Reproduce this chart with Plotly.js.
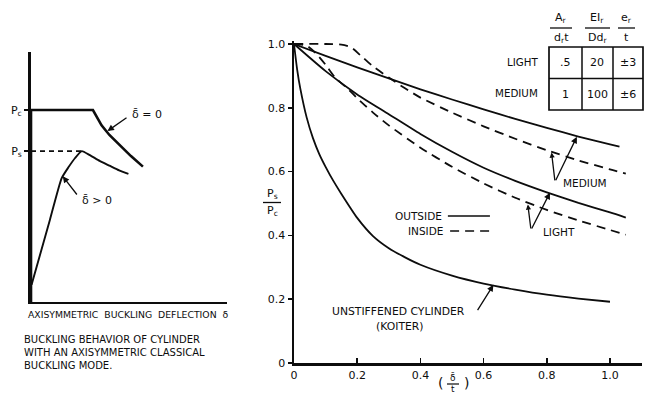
<!DOCTYPE html>
<html>
<head>
<meta charset="utf-8">
<script src="https://cdn.plot.ly/plotly-3.0.1.min.js"></script>
<style>html,body{margin:0;padding:0;background:#fff;}#chart{width:645px;height:393px;}</style>
</head>
<body>
<div id="chart"></div>
<script>
// ---------- Main chart data: P_s/P_c vs (delta-bar / t) ----------
const koiterX = [0, 0.01, 0.02, 0.04, 0.06, 0.08, 0.1, 0.125, 0.15, 0.2, 0.25, 0.3, 0.35, 0.4, 0.5, 0.6, 0.7, 0.8, 0.9, 1.0];
const koiterY = [1.0, 0.92, 0.86, 0.77, 0.705, 0.655, 0.615, 0.57, 0.53, 0.455, 0.398, 0.36, 0.332, 0.308, 0.274, 0.249, 0.23, 0.214, 0.202, 0.192];

const mediumOutX = [0, 0.1, 0.2, 0.3, 0.4, 0.5, 0.6, 0.7, 0.8, 0.9, 1.0, 1.03];
const mediumOutY = [1.0, 0.963, 0.927, 0.892, 0.858, 0.826, 0.795, 0.765, 0.737, 0.71, 0.685, 0.678];

const mediumInX = [0, 0.1, 0.15, 0.18, 0.21, 0.25, 0.3, 0.35, 0.4, 0.5, 0.6, 0.7, 0.8, 0.9, 1.0, 1.05];
const mediumInY = [1.0, 1.0, 0.998, 0.99, 0.965, 0.93, 0.895, 0.862, 0.832, 0.785, 0.742, 0.703, 0.667, 0.635, 0.607, 0.594];

const lightOutX = [0, 0.1, 0.2, 0.3, 0.4, 0.5, 0.6, 0.7, 0.8, 0.9, 1.0, 1.05];
const lightOutY = [1.0, 0.915, 0.842, 0.78, 0.718, 0.662, 0.612, 0.571, 0.535, 0.502, 0.472, 0.456];

const lightInX = [0, 0.04, 0.07, 0.1, 0.13, 0.17, 0.2, 0.25, 0.3, 0.4, 0.5, 0.6, 0.7, 0.8, 0.9, 1.0, 1.05];
const lightInY = [1.0, 0.995, 0.97, 0.935, 0.895, 0.86, 0.83, 0.785, 0.745, 0.675, 0.615, 0.563, 0.518, 0.48, 0.447, 0.417, 0.402];

const xTickVals = [0, 0.2, 0.4, 0.6, 0.8, 1.0];
const xTickText = ["0", "0.2", "0.4", "0.6", "0.8", "1.0"];
const yTickVals = [0, 0.2, 0.4, 0.6, 0.8, 1.0];
const yTickText = ["0", "0.2", "0.4", "0.6", "0.8", "1.0"];

// ---------- Left sketch data: load vs axisymmetric deflection ----------
const perfectX = [0, 0, 0.316, 0.36, 0.40, 0.454, 0.51, 0.571];
const perfectY = [0, 1.0, 1.0, 0.92, 0.87, 0.815, 0.76, 0.705];
const imperfX = [0.003, 0.097, 0.156, 0.19, 0.225, 0.259, 0.30, 0.35, 0.40, 0.45, 0.497];
const imperfY = [0.09, 0.43, 0.644, 0.70, 0.75, 0.786, 0.765, 0.735, 0.71, 0.685, 0.667];
const psLevelX = [0, 0.259];
const psLevelY = [0.786, 0.786];
const leftTickVals = [1.0, 0.786];
const leftTickText = ["P<sub>c</sub>", "P<sub>s</sub>"];

// ---------- Table ----------
const tableRows = ["LIGHT", "MEDIUM"];
const tableCells = [[".5", "20", "±3"], ["1", "100", "±6"]];
const tableHeadNum = ["A<sub>r</sub>", "EI<sub>r</sub>", "e<sub>r</sub>"];
const tableHeadDen = ["d<sub>r</sub>t", "Dd<sub>r</sub>", "t"];

const W = 645, H = 393;
const INK = '#0d0d0d';
const FONT = 'DejaVu Sans, Liberation Sans, Arial, sans-serif';
const PX = x => x / W;
const PY = y => 1 - y / H;
const f = s => ({family: FONT, size: s, color: INK});

function line(x, y, dash, xa, ya, shape) {
  return {x: x, y: y, xaxis: xa || 'x', yaxis: ya || 'y', mode: 'lines', type: 'scatter',
    line: {color: INK, width: 1.8, dash: dash || 'solid', shape: shape || 'spline', smoothing: 0.6},
    hoverinfo: 'skip', showlegend: false};
}

const traces = [
  line(koiterX, koiterY),
  line(mediumOutX, mediumOutY),
  line(mediumInX, mediumInY, '9px,6px'),
  line(lightOutX, lightOutY),
  line(lightInX, lightInY, '9px,6px'),
  Object.assign(line(perfectX, perfectY, 'solid', 'x2', 'y2', 'linear'), {line: {color: INK, width: 2.6, shape: 'linear'}}),
  Object.assign(line(imperfX, imperfY, 'solid', 'x2', 'y2', 'spline'), {line: {color: INK, width: 1.9, shape: 'spline', smoothing: 0.5}}),
  line(psLevelX, psLevelY, '5px,4px', 'x2', 'y2', 'linear')
];

const ann = [];
function txt(text, x, y, opts) {
  ann.push(Object.assign({text: text, x: x, y: y, xref: 'paper', yref: 'paper', showarrow: false,
    xanchor: 'center', yanchor: 'middle', font: f(10.5)}, opts || {}));
}
function dtxt(text, x, y, xa, ya, opts) {
  ann.push(Object.assign({text: text, x: x, y: y, xref: xa, yref: ya, showarrow: false,
    xanchor: 'center', yanchor: 'middle', font: f(10.5)}, opts || {}));
}
function arrow(tx, ty, sx, sy, xa, ya, size) {
  ann.push({text: '', x: tx, y: ty, ax: sx, ay: sy, xref: xa, yref: ya, axref: xa, ayref: ya,
    showarrow: true, arrowhead: 2, arrowsize: size || 1, arrowwidth: 1.3, arrowcolor: INK, standoff: 0, startstandoff: 0});
}

// main chart labels
dtxt('OUTSIDE', 0.475, 0.461, 'x', 'y', {xanchor: 'right'});
dtxt('INSIDE', 0.478, 0.414, 'x', 'y', {xanchor: 'right'});
dtxt('LIGHT', 0.783, 0.411, 'x', 'y', {xanchor: 'left'});
dtxt('MEDIUM', 0.845, 0.565, 'x', 'y', {xanchor: 'left'});
dtxt('UNSTIFFENED CYLINDER', 0.332, 0.160, 'x', 'y', {font: f(10.8)});
dtxt('(KOITER)', 0.335, 0.113, 'x', 'y', {font: f(10.8)});
// arrows
arrow(0.631, 0.245, 0.578, 0.161, 'x', 'y');
arrow(0.81, 0.534, 0.75, 0.417, 'x', 'y');
arrow(0.74, 0.497, 0.75, 0.417, 'x', 'y', 0.8);
arrow(0.895, 0.709, 0.826, 0.568, 'x', 'y');
arrow(0.815, 0.66, 0.826, 0.568, 'x', 'y', 0.8);

// y title P_s / P_c
txt('P<sub>s</sub>', PX(272), PY(194), {font: f(11)});
txt('P<sub>c</sub>', PX(272), PY(211), {font: f(11)});
// x title (delta-bar / t), bottom cut by the page edge as in the source
txt('(', PX(441), PY(383), {font: f(14)});
txt(')', PX(466), PY(383), {font: f(14)});
txt('δ̄<br>t', PX(453), PY(383), {font: f(9)});

// left sketch labels
dtxt('δ̄ = 0', 0.505, 0.974, 'x2', 'y2', {xanchor: 'left', font: f(11)});
dtxt('δ̄ > 0', 0.25, 0.531, 'x2', 'y2', {xanchor: 'left', font: f(11)});
arrow(0.39, 0.89, 0.495, 0.965, 'x2', 'y2');
arrow(0.162, 0.655, 0.24, 0.552, 'x2', 'y2');
txt('AXISYMMETRIC  BUCKLING  DEFLECTION  δ', PX(128), PY(314), {font: f(9.3)});
txt('BUCKLING BEHAVIOR OF CYLINDER<br>WITH AN AXISYMMETRIC CLASSICAL<br>BUCKLING MODE.', PX(22), PY(352),
    {xanchor: 'left', align: 'left', font: f(10)});

// table
const colX = [565, 597, 628];
const rowY = [63, 94];
tableRows.forEach((r, i) => {
  txt(r, PX(540), PY(rowY[i] - 1), {xanchor: 'right', font: f(10.3)});
  tableCells[i].forEach((c, j) => txt(c, PX(colX[j]), PY(rowY[i]), {font: f(11)}));
});
const headX = [561, 597, 626];
tableHeadNum.forEach((h, j) => txt(h, PX(headX[j]), PY(18), {font: f(11)}));
tableHeadDen.forEach((h, j) => txt(h, PX(headX[j]), PY(38), {font: f(11)}));

const shapes = [];
function pline(x0, y0, x1, y1, w, dash) {
  shapes.push({type: 'line', xref: 'paper', yref: 'paper', x0: PX(x0), y0: PY(y0), x1: PX(x1), y1: PY(y1),
    line: {color: INK, width: w || 1.5, dash: dash || 'solid'}});
}
// table grid
shapes.push({type: 'rect', xref: 'paper', yref: 'paper', x0: PX(549), y0: PY(47), x1: PX(643), y1: PY(110), line: {color: INK, width: 1.7}});
pline(582, 47, 582, 110, 1.5);
pline(613, 47, 613, 110, 1.5);
pline(549, 78.5, 643, 78.5, 1.5);
// header fraction bars
pline(550, 28, 572, 28, 1.3);
pline(585, 28, 610, 28, 1.3);
pline(618, 28, 635, 28, 1.3);
// y-title bar, x-title bar
pline(263, 202.5, 281, 202.5, 1.3);
pline(447, 384, 459, 384, 1.2);
// legend keys
shapes.push({type: 'line', xref: 'x', yref: 'y', x0: 0.487, y0: 0.461, x1: 0.62, y1: 0.461, line: {color: INK, width: 1.6}});
shapes.push({type: 'line', xref: 'x', yref: 'y', x0: 0.494, y0: 0.414, x1: 0.62, y1: 0.414, line: {color: INK, width: 1.6, dash: '9px,6px'}});

const axCommon = {showgrid: false, zeroline: false, showline: true, linecolor: INK, linewidth: 2.5,
  tickcolor: INK, tickfont: f(11), fixedrange: true};

const layout = {
  width: W, height: H, margin: {l: 0, r: 0, t: 0, b: 0},
  paper_bgcolor: '#fff', plot_bgcolor: 'rgba(0,0,0,0)', showlegend: false,
  xaxis: Object.assign({}, axCommon, {domain: [294 / W, 641.6 / W], range: [0, 1.1], anchor: 'y',
    tickmode: 'array', tickvals: xTickVals, ticktext: xTickText, ticks: 'inside', ticklen: 5, tickwidth: 1.5}),
  yaxis: Object.assign({}, axCommon, {domain: [1 - 363 / H, 1 - (363 - 1.01 * 319) / H], range: [0, 1.01], anchor: 'x',
    tickmode: 'array', tickvals: yTickVals, ticktext: yTickText, ticks: 'outside', ticklen: 4, tickwidth: 1.5}),
  xaxis2: Object.assign({}, axCommon, {domain: [31 / W, 227 / W], range: [0, 1], anchor: 'y2',
    showticklabels: false, ticks: '', linewidth: 2.2}),
  yaxis2: Object.assign({}, axCommon, {domain: [1 - 302 / H, 1 - 52 / H], range: [0, 1.302], anchor: 'x2',
    tickmode: 'array', tickvals: leftTickVals, ticktext: leftTickText, ticks: 'outside', ticklen: 4, tickwidth: 1.5, linewidth: 3}),
  annotations: ann,
  shapes: shapes
};

Plotly.newPlot('chart', traces, layout, {displayModeBar: false, staticPlot: true});
</script>
</body>
</html>
